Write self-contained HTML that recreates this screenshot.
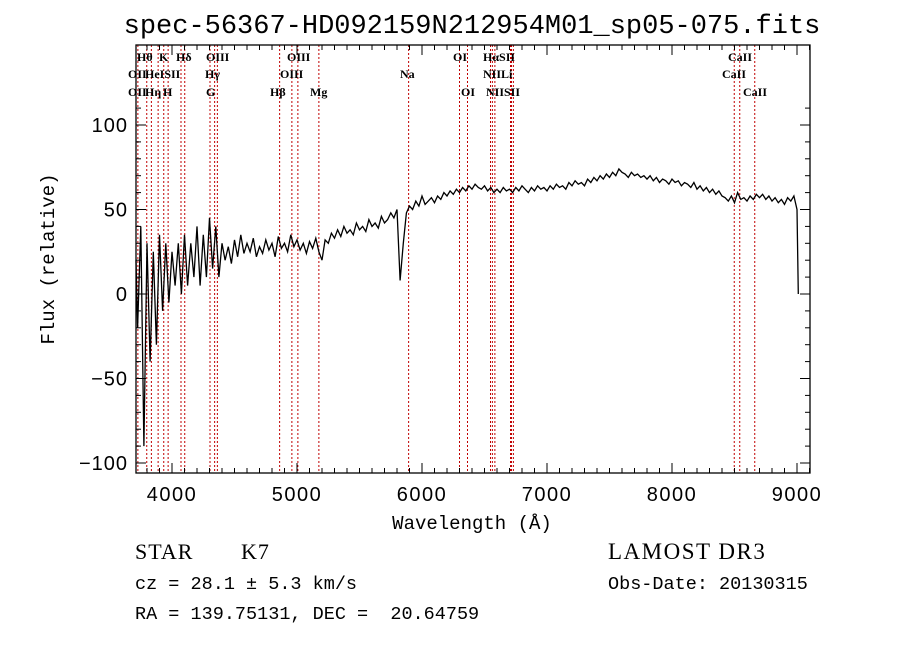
<!DOCTYPE html>
<html><head><meta charset="utf-8"><style>
body{margin:0;background:#fff;}
svg text{font-family:"Liberation Serif",serif;}
</style></head><body>
<svg id="chart" width="900" height="649" viewBox="0 0 900 649" xmlns="http://www.w3.org/2000/svg">
<rect width="900" height="649" fill="#fff"/>
<text x="472" y="33" font-size="27" text-anchor="middle" style="font-family:'Liberation Mono',monospace">spec-56367-HD092159N212954M01_sp05-075.fits</text>
<g id="lines"></g>
<g id="labels" font-size="12" font-weight="bold"></g>
<path id="spec" fill="none" stroke="#000" stroke-width="1.3"/>
<rect x="136" y="45" width="674" height="428" fill="none" stroke="#000" stroke-width="1.3"/>
<g id="axes"></g>
<text x="472" y="529" font-size="19" text-anchor="middle" style="font-family:'Liberation Mono',monospace">Wavelength (Å)</text>
<text transform="translate(54,259) rotate(-90)" font-size="19" text-anchor="middle" style="font-family:'Liberation Mono',monospace">Flux (relative)</text>
<text x="135" y="559" font-size="22" letter-spacing="1">STAR</text>
<text x="241" y="559" font-size="22" letter-spacing="1">K7</text>
<text x="135" y="589" font-size="18.5" style="font-family:'Liberation Mono',monospace;white-space:pre">cz = 28.1 ± 5.3 km/s</text>
<text x="135" y="619" font-size="18.5" style="font-family:'Liberation Mono',monospace;white-space:pre">RA = 139.75131, DEC =  20.64759</text>
<text x="608" y="559" font-size="23" letter-spacing="1.5">LAMOST DR3</text>
<text x="608" y="589" font-size="18.5" style="font-family:'Liberation Mono',monospace">Obs-Date: 20130315</text>
</svg>
<script>
const startWave = 3700, stepWave = 25;
const flux = [
20,-20,40,-90,30,-40,25,-30,35,-10,30,-5,25,5,30,0,35,5,30,10,
40,5,35,10,45,15,40,10,30,20,28,18,32,22,35,24,30,25,33,22,
28,24,32,26,30,22,34,27,30,25,35,28,32,26,30,24,31,27,33,25,
20,32,30,36,33,38,34,40,36,38,35,42,38,40,37,44,40,42,39,46,
42,44,48,45,50,8,30,48,52,50,55,52,58,53,55,57,54,58,56,60,
58,61,59,62,60,63,61,64,62,65,63,62,64,61,63,60,62,60,63,61,
62,60,63,61,64,62,60,63,61,64,62,63,61,64,62,65,63,64,62,66,
64,67,65,66,64,68,66,69,67,70,68,71,69,72,70,74,72,71,69,72,
70,71,69,70,68,70,67,69,66,68,67,65,68,66,67,64,66,65,63,66,
62,64,61,63,60,62,59,61,58,57,55,58,54,60,56,57,55,58,56,59,
57,59,56,58,55,57,54,56,53,57,55,58,50,0];
const xTicks = [4000,5000,6000,7000,8000,9000];
const yTicks = [-100,-50,0,50,100];
const lineWaves = [3727,3798,3835,3889,3934,3969,4072,4102,4304,4341,4363,4861,4959,5007,5175,5893,6300,6364,6548,6563,6583,6708,6716,6731,8498,8542,8662];
const lineLabels = [["Hθ",137,61],["K",159,61],["Hδ",176,61],["OIII",206,61],["OIII",287,61],["OI",453,61],["HαSII",483,61],["CaII",728,61],
["OII",128,78],["HeISII",145,78],["Hγ",205,78],["OIII",280,78],["Na",400,78],["NIILi",483,78],["CaII",722,78],
["OII",128,96],["Hη",145,96],["H",163,96],["G",206,96],["Hβ",270,96],["Mg",310,96],["OI",461,96],["NIISII",486,96],["CaII",743,96]];
const X = w => 172 + (w-4000)*0.125;
const Y = f => 294 - f*1.69;
const NS="http://www.w3.org/2000/svg";
function mk(tag, attrs, parent){const e=document.createElementNS(NS,tag);for(const k in attrs)e.setAttribute(k,attrs[k]);parent.appendChild(e);return e;}
const lines=document.getElementById('lines');
lineWaves.forEach(w=>{
  const l=mk('line',{x1:X(w),x2:X(w),y1:45,y2:473,stroke:'#c00000','stroke-width':1,'stroke-dasharray':'2,2'},lines);
  
  
});
const lab=document.getElementById('labels');
lineLabels.forEach(a=>{
  const t=mk('text',{x:a[1],y:a[2]},lab);t.textContent=a[0];
  
  
});
let d='';
flux.forEach((f,i)=>{const w=i<flux.length-1?startWave+i*stepWave:startWave+(i-1)*stepWave+10;d+=(i?'L':'M')+Math.max(136,X(w)).toFixed(1)+','+Y(f).toFixed(1);});
document.getElementById('spec').setAttribute('d',d);
const ax=document.getElementById('axes');
for(let w=3800;w<=9100;w+=100){const maj=w%1000===0;
  mk('line',{x1:X(w),x2:X(w),y1:473,y2:473-(maj?10:5),stroke:'#000'},ax);
  mk('line',{x1:X(w),x2:X(w),y1:45,y2:45+(maj?10:5),stroke:'#000'},ax);}
xTicks.forEach(w=>{const t=mk('text',{x:X(w),y:501,'font-size':20,'text-anchor':'middle','letter-spacing':1.5},ax);t.style.fontFamily="'Liberation Sans',sans-serif";t.textContent=w;
  
  });
for(let f=-100;f<=110;f+=10){const maj=f%50===0;
  mk('line',{x1:136,x2:136+(maj?10:5),y1:Y(f),y2:Y(f),stroke:'#000'},ax);
  mk('line',{x1:810,x2:810-(maj?10:5),y1:Y(f),y2:Y(f),stroke:'#000'},ax);}
yTicks.forEach(f=>{const t=mk('text',{x:128,y:Y(f)+7,'font-size':20,'text-anchor':'end','letter-spacing':1},ax);t.style.fontFamily="'Liberation Sans',sans-serif";t.textContent=f<0?'−'+(-f):f;
  
  });
</script>
</body></html>
